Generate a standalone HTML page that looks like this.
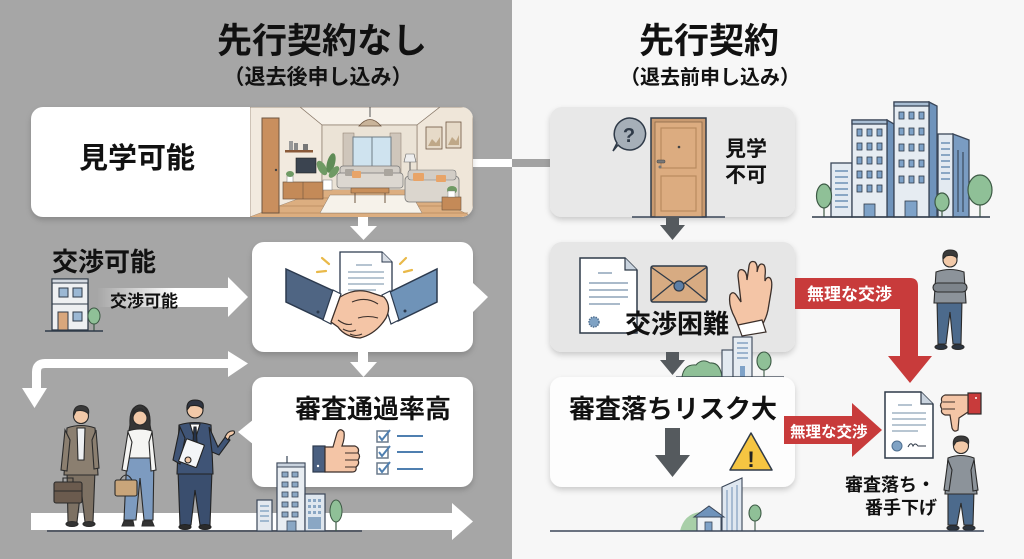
<!DOCTYPE html>
<html><head><meta charset="utf-8"><style>
html,body{margin:0;padding:0;width:1024px;height:559px;overflow:hidden;background:#f7f7f7}
svg{display:block}
text{font-family:"Liberation Sans","Noto Sans CJK JP",sans-serif;font-weight:700}
</style></head><body>
<svg width="1024" height="559" viewBox="0 0 1024 559" xmlns="http://www.w3.org/2000/svg">
<defs>
<filter id="sh" x="-10%" y="-10%" width="120%" height="135%"><feDropShadow dx="0" dy="3" stdDeviation="3" flood-color="#000" flood-opacity="0.18"/></filter>
<clipPath id="roomclip"><path d="M250 107 H461 A12 12 0 0 1 473 119 V205 A12 12 0 0 1 461 217 H250 Z"/></clipPath>
<linearGradient id="fade" x1="97" y1="0" x2="175" y2="0" gradientUnits="userSpaceOnUse"><stop offset="0" stop-color="#fff" stop-opacity="0"/><stop offset="1" stop-color="#fff" stop-opacity="1"/></linearGradient>
</defs>

<!-- backgrounds -->
<rect x="0" y="0" width="512" height="559" fill="#a6a6a6"/>
<rect x="512" y="0" width="512" height="559" fill="#f7f7f7"/>

<!-- titles -->
<text x="322" y="53" font-size="35" text-anchor="middle" fill="#111">先行契約なし</text>
<text x="318" y="84" font-size="21" text-anchor="middle" fill="#111">（退去後申し込み）</text>
<text x="709" y="53" font-size="35" text-anchor="middle" fill="#111">先行契約</text>
<text x="710" y="84" font-size="20" text-anchor="middle" fill="#111">（退去前申し込み）</text>

<!-- connector card1 -->
<rect x="470" y="159" width="42" height="8" fill="#fff"/>
<rect x="512" y="159" width="40" height="8" fill="#a2a2a2"/>

<!-- LEFT CARD 1 -->
<rect x="31" y="107" width="442" height="110" rx="12" fill="#fff" filter="url(#sh)"/>
<text x="79" y="168" font-size="29" fill="#111">見学可能</text>
<g clip-path="url(#roomclip)">
  <rect x="250" y="107" width="223" height="110" fill="#f4ede3"/>
  <polygon points="300,107 440,107 417,125 322,125" fill="#f7f2ea" stroke="#8a7a6a" stroke-width="0.7"/>
  <polygon points="250,107 300,107 322,125 322,190 250,217" fill="#f2eadf" stroke="#8a7a6a" stroke-width="0.7"/>
  <polygon points="440,107 473,107 473,217 417,190 417,125" fill="#efe6d9" stroke="#8a7a6a" stroke-width="0.7"/>
  <rect x="322" y="125" width="95" height="65" fill="#ebe3d6" stroke="#8a7a6a" stroke-width="0.7"/>
  <polygon points="322,190 417,190 473,217 250,217" fill="#dcae80"/>
  <g stroke="#b98a5e" stroke-width="0.7">
    <line x1="300" y1="198" x2="440" y2="198"/><line x1="280" y1="206" x2="455" y2="206"/><line x1="265" y1="213" x2="468" y2="213"/>
  </g>
  <polygon points="330,195 412,195 422,213 320,213" fill="#f6f2ea" stroke="#8a7a6a" stroke-width="0.5"/>
  <rect x="343" y="133" width="11" height="42" fill="#cfc6bb" stroke="#8a7a6a" stroke-width="0.5"/>
  <rect x="390" y="133" width="11" height="42" fill="#cfc6bb" stroke="#8a7a6a" stroke-width="0.5"/>
  <rect x="353" y="137" width="38" height="30" fill="#cfe3ef" stroke="#6f7c86" stroke-width="1"/>
  <line x1="372" y1="137" x2="372" y2="167" stroke="#6f7c86"/>
  <line x1="370" y1="107" x2="370" y2="117" stroke="#555"/>
  <path d="M359 126 Q370 113 381 126 Z" fill="#c9b49a" stroke="#6e5540" stroke-width="0.8"/>
  <rect x="340" y="166" width="60" height="10" rx="3" fill="#d2cdc6" stroke="#777" stroke-width="0.7"/>
  <rect x="337" y="173" width="66" height="15" rx="3" fill="#dcd7d0" stroke="#777" stroke-width="0.7"/>
  <rect x="345" y="169" width="9" height="7" rx="1" fill="#aaa59e"/>
  <rect x="352" y="171" width="9" height="7" rx="1" fill="#e8a468"/>
  <rect x="384" y="169" width="9" height="7" rx="1" fill="#aaa59e"/>
  <rect x="351" y="188" width="38" height="5" fill="#c98f5a" stroke="#6e5540" stroke-width="0.6"/>
  <line x1="355" y1="193" x2="355" y2="203" stroke="#6e5540"/><line x1="385" y1="193" x2="385" y2="203" stroke="#6e5540"/>
  <rect x="262" y="118" width="17" height="95" fill="#c98f5e" stroke="#6e5540" stroke-width="1"/>
  <circle cx="276" cy="170" r="1.2" fill="#444"/>
  <rect x="285" y="150" width="28" height="2.5" fill="#8a5a3a"/>
  <rect x="289" y="141" width="4" height="9" fill="#9a9a9a"/><rect x="294" y="143" width="4" height="7" fill="#8a8a8a"/><rect x="303" y="144" width="5" height="6" fill="#777"/>
  <rect x="296" y="158" width="20" height="15" fill="#3b4450" stroke="#222" stroke-width="0.6"/>
  <rect x="283" y="182" width="40" height="17" fill="#c48a58" stroke="#6e5540" stroke-width="0.7"/>
  <line x1="303" y1="182" x2="303" y2="199" stroke="#6e5540" stroke-width="0.6"/>
  <rect x="287" y="176" width="6" height="6" fill="#fff" stroke="#777" stroke-width="0.5"/>
  <ellipse cx="290" cy="174" rx="4" ry="3" fill="#6f9a64"/>
  <rect x="323" y="180" width="9" height="10" fill="#fff" stroke="#777" stroke-width="0.5"/>
  <ellipse cx="322" cy="168" rx="4" ry="8" fill="#6f9a64" transform="rotate(-30 322 168)"/>
  <ellipse cx="331" cy="163" rx="4" ry="10" fill="#5f8c56" transform="rotate(15 331 163)"/>
  <ellipse cx="334" cy="172" rx="3.5" ry="7" fill="#6f9a64" transform="rotate(40 334 172)"/>
  <line x1="410" y1="160" x2="410" y2="185" stroke="#555"/>
  <path d="M404 162 L406 154 L414 154 L416 162 Z" fill="#eee" stroke="#666" stroke-width="0.6"/>
  <rect x="405" y="176" width="54" height="26" rx="4" fill="#dbd6ce" stroke="#777" stroke-width="0.8"/>
  <rect x="408" y="170" width="48" height="10" rx="3" fill="#d2cdc6" stroke="#777" stroke-width="0.6"/>
  <rect x="413" y="173" width="11" height="8" rx="1" fill="#e8a468"/>
  <rect x="436" y="175" width="10" height="7" rx="1" fill="#e8a468"/>
  <rect x="426" y="127" width="16" height="22" fill="#e6dac8" stroke="#6e5540" stroke-width="0.8"/>
  <path d="M428 146 L432 139 L436 143 L440 137 L440 146 Z" fill="#bfa888"/>
  <rect x="446" y="122" width="15" height="26" fill="#e6dac8" stroke="#6e5540" stroke-width="0.8"/>
  <path d="M448 145 L452 137 L456 141 L459 135 L459 145 Z" fill="#bfa888"/>
  <rect x="442" y="197" width="19" height="13" fill="#c48a58" stroke="#6e5540" stroke-width="0.6"/>
  <ellipse cx="452" cy="190" rx="5" ry="4" fill="#6f9a64"/>
  <rect x="448" y="191" width="7" height="6" fill="#fff" stroke="#777" stroke-width="0.4"/>
</g>

<!-- left arrows -->
<rect x="358" y="217" width="10" height="12" fill="#fff"/>
<polygon points="350,226 377,226 363.5,240" fill="#fff"/>

<!-- LEFT CARD 2 (handshake) -->
<rect x="252" y="242" width="221" height="110" rx="12" fill="#fff" filter="url(#sh)"/>
<polygon points="473,283 488,297 473,312" fill="#fff"/>
<path d="M340 252 H382 L392 262 V298 H340 Z" fill="#fff" stroke="#2c3a4e" stroke-width="1.3"/>
<path d="M382 252 V262 H392" fill="#d9dee5" stroke="#2c3a4e" stroke-width="1"/>
<g stroke="#8ea3b8" stroke-width="1.3"><line x1="356" y1="265" x2="372" y2="265"/><line x1="348" y1="272" x2="384" y2="272"/><line x1="348" y1="278" x2="384" y2="278"/><line x1="348" y1="284" x2="384" y2="284"/><line x1="348" y1="290" x2="376" y2="290"/></g>
<g stroke="#e9b949" stroke-width="2.2" stroke-linecap="round"><line x1="322" y1="258" x2="329" y2="264"/><line x1="317" y1="272" x2="326" y2="271"/><line x1="406" y1="258" x2="400" y2="264"/><line x1="404" y1="272" x2="412" y2="270"/></g>
<polygon points="286,269 336,292 326,321 286,302" fill="#4f6583" stroke="#2c3a4e" stroke-width="1.5"/>
<polygon points="333,290 341,294 331,324 323,320" fill="#fff" stroke="#2c3a4e" stroke-width="1.2"/>
<polygon points="437,269 437,302 398,321 388,293" fill="#6f93b8" stroke="#2c3a4e" stroke-width="1.5"/>
<polygon points="390,291 382,295 391,324 399,320" fill="#fff" stroke="#2c3a4e" stroke-width="1.2"/>
<circle cx="318" cy="312" r="1.5" fill="#2c3a4e"/><circle cx="405" cy="311" r="1.5" fill="#2c3a4e"/>
<path d="M340 297 Q356 287 372 293 L384 297 Q392 306 386 318 Q376 334 360 338 Q345 337 338 327 L331 322 Z" fill="#f4c5a6" stroke="#3b2f2a" stroke-width="1.3"/>
<g fill="none" stroke="#3b2f2a" stroke-width="1.1"><path d="M352 302 Q366 296 378 304"/><path d="M338 320 Q346 326 352 324"/><path d="M343 329 Q350 333 356 330"/><path d="M350 334 Q356 337 362 334"/><path d="M358 318 Q368 315 378 318"/></g>

<!-- 交渉可能 label -->
<text x="52" y="271" font-size="26" fill="#111">交渉可能</text>
<rect x="52" y="279" width="36" height="51" fill="#eef0f2" stroke="#2f3a48" stroke-width="1.3"/>
<rect x="52" y="279" width="36" height="4" fill="#d5dbe2" stroke="#2f3a48" stroke-width="1"/>
<rect x="59" y="288" width="9" height="9" fill="#9bb8d4" stroke="#2f3a48" stroke-width="1"/>
<rect x="73" y="288" width="9" height="9" fill="#9bb8d4" stroke="#2f3a48" stroke-width="1"/>
<line x1="52" y1="304" x2="88" y2="304" stroke="#2f3a48" stroke-width="1"/>
<rect x="58" y="312" width="10" height="18" fill="#d9a77c" stroke="#2f3a48" stroke-width="1"/>
<rect x="73" y="312" width="9" height="9" fill="#9bb8d4" stroke="#2f3a48" stroke-width="1"/>
<line x1="94" y1="318" x2="94" y2="331" stroke="#3d5a45" stroke-width="1.2"/>
<ellipse cx="94" cy="316" rx="6" ry="8" fill="#8fc097" stroke="#3d5a45" stroke-width="1"/>
<line x1="45" y1="331" x2="103" y2="331" stroke="#2f3a48" stroke-width="1.5"/>
<rect x="97" y="288" width="133" height="19" fill="url(#fade)"/>
<polygon points="228,277 248,297 228,317" fill="#fff"/>
<text x="110" y="307" font-size="17" fill="#111">交渉可能</text>

<!-- down arrow 2 -->
<rect x="358" y="352" width="10" height="12" fill="#fff"/>
<polygon points="350,362 377,362 363.5,377" fill="#fff"/>

<!-- elbow arrow -->
<path d="M232 363.5 L45 363.5 Q36.5 363.5 36.5 372 L36.5 392" fill="none" stroke="#fff" stroke-width="9"/>
<polygon points="228,351 248,363.5 228,377" fill="#fff"/>
<polygon points="22,388 47,388 34.5,408" fill="#fff"/>

<!-- LEFT CARD 3 -->
<rect x="252" y="377" width="221" height="110" rx="12" fill="#fff" filter="url(#sh)"/>
<polygon points="254,419 238,432 254,445" fill="#fff"/>
<text x="295" y="418" font-size="26" fill="#111">審査通過率高</text>
<rect x="313" y="446" width="12" height="26" fill="#4a5f80" stroke="#2c3a4e" stroke-width="1.2"/>
<circle cx="318" cy="466" r="1.2" fill="#fff"/>
<path d="M325 447 L333 447 L337 433 Q340 427 344 432 Q345 438 342 446 L355 446 Q360 448 358 453 Q361 456 358 460 Q360 464 356 467 Q357 472 352 472 L325 472 Z" fill="#f4c5a6" stroke="#3b2f2a" stroke-width="1.2"/>
<g fill="none" stroke="#3b2f2a" stroke-width="1"><line x1="345" y1="453" x2="358" y2="453"/><line x1="345" y1="460" x2="358" y2="460"/><line x1="345" y1="467" x2="356" y2="467"/></g>
<g fill="none" stroke="#4f7fb0" stroke-width="1.5">
  <rect x="377" y="431" width="11" height="11" stroke="#6a7a8c"/><path d="M379 436 L382 440 L390 430" stroke-width="2"/><line x1="397" y1="436" x2="423" y2="436" stroke-width="2"/>
  <rect x="377" y="447" width="11" height="11" stroke="#6a7a8c"/><path d="M379 452 L382 456 L390 446" stroke-width="2"/><line x1="397" y1="452" x2="423" y2="452" stroke-width="2"/>
  <rect x="377" y="463" width="11" height="11" stroke="#6a7a8c"/><path d="M379 468 L382 472 L390 462" stroke-width="2"/><line x1="397" y1="469" x2="423" y2="469" stroke-width="2"/>
</g>

<!-- bottom arrow left -->
<rect x="31" y="513" width="425" height="17" fill="#fff"/>
<polygon points="452,503 473,521.5 452,540" fill="#fff"/>
<line x1="47" y1="531" x2="362" y2="531" stroke="#3a4250" stroke-width="1.5"/>

<!-- buildings left bottom -->
<rect x="257" y="500" width="15" height="31" fill="#e4e9ef" stroke="#3a4658" stroke-width="1.2"/>
<g stroke="#8aa7c4" stroke-width="1.5"><line x1="260" y1="506" x2="269" y2="506"/><line x1="260" y1="511" x2="269" y2="511"/><line x1="260" y1="516" x2="269" y2="516"/><line x1="260" y1="521" x2="269" y2="521"/></g>
<line x1="287" y1="456" x2="287" y2="463" stroke="#3a4658" stroke-width="1.2"/>
<rect x="277" y="463" width="28" height="68" fill="#e8edf2" stroke="#3a4658" stroke-width="1.2"/>
<rect x="277" y="463" width="28" height="4" fill="#c9d3de" stroke="#3a4658" stroke-width="1"/>
<g fill="#8aa7c4" stroke="#3a4658" stroke-width="0.8">
 <rect x="282" y="472" width="6" height="5"/><rect x="292" y="472" width="6" height="5"/>
 <rect x="282" y="482" width="6" height="5"/><rect x="292" y="482" width="6" height="5"/>
 <rect x="282" y="492" width="6" height="5"/><rect x="292" y="492" width="6" height="5"/>
 <rect x="282" y="502" width="6" height="5"/><rect x="292" y="502" width="6" height="5"/>
 <rect x="282" y="512" width="6" height="5"/><rect x="292" y="512" width="6" height="5"/>
 <rect x="287" y="521" width="9" height="10"/>
</g>
<rect x="305" y="494" width="20" height="37" fill="#dfe7ef" stroke="#3a4658" stroke-width="1.2"/>
<g fill="#8aa7c4"><rect x="308" y="499" width="3" height="3"/><rect x="313" y="499" width="3" height="3"/><rect x="318" y="499" width="3" height="3"/><rect x="308" y="505" width="3" height="3"/><rect x="313" y="505" width="3" height="3"/><rect x="318" y="505" width="3" height="3"/><rect x="308" y="511" width="3" height="3"/><rect x="313" y="511" width="3" height="3"/><rect x="318" y="511" width="3" height="3"/><rect x="308" y="517" width="13" height="12"/></g>
<line x1="336" y1="515" x2="336" y2="531" stroke="#3d5a45" stroke-width="1.2"/>
<ellipse cx="336" cy="511" rx="6" ry="11" fill="#8fc097" stroke="#3d5a45" stroke-width="1"/>

<!-- people left -->
<!-- person1 -->
<g stroke="#2b2b2b" stroke-width="1.1">
 <polygon points="67,470 95,470 93,522 85,522 81,488 77,522 68,522" fill="#7d7163"/>
 <ellipse cx="72" cy="524" rx="6" ry="2.5" fill="#333"/><ellipse cx="89" cy="524" rx="6" ry="2.5" fill="#333"/>
 <path d="M67 428 Q81 423 95 428 L98 475 L64 475 Z" fill="#8b7f70"/>
 <polygon points="77,428 85,428 84,460 78,460" fill="#eef0f2"/>
 <path d="M65 430 L61 470 L67 471 L70 440 Z" fill="#8b7f70"/>
 <path d="M96 430 L99 468 L94 469 L92 440 Z" fill="#8b7f70"/>
 <circle cx="81" cy="416" r="7.5" fill="#f2c9a8"/>
 <path d="M73.5 416 Q73 406 81 405.5 Q90 406 88.5 414 Q84 409 76 411 Z" fill="#3a3a3a"/>
 <rect x="54" y="482" width="28" height="21" rx="2" fill="#6b5b4e"/>
 <path d="M63 482 L63 478 L73 478 L73 482" fill="none"/>
 <line x1="54" y1="491" x2="82" y2="491"/>
</g>
<!-- person2 -->
<g stroke="#2b2b2b" stroke-width="1.1">
 <path d="M130 425 Q129 406 140 405 Q151 406 150 425 L152 436 L128 436 Z" fill="#353535"/>
 <polygon points="127,455 154,455 153,520 144,520 140,478 136,520 124,520" fill="#7d9bc0"/>
 <path d="M124 521 L133 521 L134 526 L122 526 Z" fill="#333"/><path d="M143 521 L152 521 L154 526 L142 526 Z" fill="#333"/>
 <path d="M128 431 Q140 427 152 431 L154 458 L126 458 Z" fill="#f5f5f3"/>
 <path d="M128 432 L122 470 L127 471 L132 442 Z" fill="#f5f5f3"/>
 <path d="M152 432 L156 470 L151 471 L149 442 Z" fill="#f5f5f3"/>
 <circle cx="140" cy="418" r="7" fill="#f2c9a8"/>
 <path d="M133 416 Q134 408 142 409 Q145 411 147 416 Q147 406 140 405 Q132 406 133 416 Z" fill="#353535"/>
 <rect x="115" y="480" width="22" height="16" rx="2" fill="#c9a57a"/>
 <path d="M120 480 Q126 470 132 480" fill="none"/>
</g>
<!-- person3 -->
<g stroke="#222" stroke-width="1.1">
 <polygon points="178,470 212,470 210,525 200,525 195,490 191,525 180,525" fill="#3a4e6e"/>
 <ellipse cx="185" cy="527" rx="6" ry="2.5" fill="#2b2b2b"/><ellipse cx="205" cy="527" rx="6" ry="2.5" fill="#2b2b2b"/>
 <path d="M179 425 Q195 420 211 425 L213 474 L177 474 Z" fill="#3f5476"/>
 <polygon points="190,424 200,424 195,440" fill="#fff"/>
 <polygon points="194,427 196,427 197,442 195,446 193,442" fill="#24324a"/>
 <path d="M180 427 L173 460 L180 464 L185 438 Z" fill="#3f5476"/>
 <path d="M209 427 L218 447 L226 436 L230 440 L219 455 L212 452 Z" fill="#3f5476"/>
 <path d="M225 437 Q228 430 234 431 Q236 434 230 436 L228 440 Z" fill="#f2c9a8"/>
 <rect x="182" y="441" width="19" height="24" rx="1" fill="#f4f6f8" transform="rotate(20 191 453)"/>
 <circle cx="188" cy="460" r="3" fill="#f2c9a8"/>
 <circle cx="195" cy="410" r="8" fill="#f2c9a8"/>
 <path d="M187 410 Q186 400 195 400 Q205 400 203 409 Q199 404 190 406 Z" fill="#2f3542"/>
</g>

<!-- RIGHT CARD 1 -->
<rect x="550" y="107" width="245" height="110" rx="12" fill="#e8e8e8" filter="url(#sh)"/>
<path d="M629 118 A16 16 0 1 1 618 145 L613 151 L617 143 A16 16 0 0 1 629 118 Z" fill="#a6afb8" stroke="#2f3a48" stroke-width="1.5"/>
<text x="629" y="142" font-size="20" text-anchor="middle" fill="#2f3a48" font-family="Liberation Sans, sans-serif">?</text>
<rect x="651" y="118" width="55" height="99" fill="#c99a70" stroke="#2f3a48" stroke-width="1.5"/>
<rect x="655" y="122" width="47" height="95" fill="#dcac80" stroke="#8a6a4a" stroke-width="0.8"/>
<rect x="661" y="128" width="35" height="40" fill="none" stroke="#b98a5e" stroke-width="1.2"/>
<rect x="661" y="176" width="35" height="35" fill="none" stroke="#b98a5e" stroke-width="1.2"/>
<circle cx="679" cy="147" r="1.3" fill="#444"/>
<rect x="657" y="160" width="8" height="3" rx="1" fill="#777" stroke="#444" stroke-width="0.5"/>
<circle cx="660" cy="167" r="1.5" fill="#777"/>
<line x1="632" y1="217" x2="725" y2="217" stroke="#3a4658" stroke-width="1.5"/>
<text x="725" y="156" font-size="21" fill="#111">見学</text>
<text x="725" y="182" font-size="21" fill="#111">不可</text>

<!-- right city top -->
<g stroke="#3a4658" stroke-width="1.3">
 <rect x="831" y="163" width="21" height="54" fill="#e3eaf1"/>
 <g stroke="#8aa7c4" stroke-width="2"><line x1="835" y1="171" x2="848" y2="171"/><line x1="835" y1="177" x2="848" y2="177"/><line x1="835" y1="183" x2="848" y2="183"/><line x1="835" y1="189" x2="848" y2="189"/><line x1="835" y1="195" x2="848" y2="195"/><line x1="835" y1="201" x2="848" y2="201"/><line x1="835" y1="207" x2="848" y2="207"/></g>
 <polygon points="887,120 894,124 894,217 887,217" fill="#6f93bb"/>
 <rect x="852" y="120" width="35" height="97" fill="#e6ecf2"/>
 <rect x="852" y="120" width="35" height="4" fill="#a8bdd3"/>
 <polygon points="929,102 937,106 937,217 929,217" fill="#6f93bb"/>
 <rect x="894" y="102" width="35" height="115" fill="#e6ecf2"/>
 <rect x="894" y="102" width="35" height="4" fill="#a8bdd3"/>
 <polygon points="953,134 969,140 969,217 953,217" fill="#7a9cc2"/>
 <rect x="938" y="134" width="15" height="83" fill="#e3eaf1"/>
</g>
<g fill="#7ea2c8" stroke="#2f3a48" stroke-width="0.8">
 <rect x="857" y="129" width="5" height="7"/><rect x="867" y="129" width="5" height="7"/><rect x="877" y="129" width="5" height="7"/>
 <rect x="857" y="143" width="5" height="7"/><rect x="867" y="143" width="5" height="7"/><rect x="877" y="143" width="5" height="7"/>
 <rect x="857" y="157" width="5" height="7"/><rect x="867" y="157" width="5" height="7"/><rect x="877" y="157" width="5" height="7"/>
 <rect x="857" y="171" width="5" height="7"/><rect x="867" y="171" width="5" height="7"/><rect x="877" y="171" width="5" height="7"/>
 <rect x="857" y="185" width="5" height="7"/><rect x="867" y="185" width="5" height="7"/><rect x="877" y="185" width="5" height="7"/>
 <rect x="864" y="204" width="11" height="13"/>
 <rect x="899" y="112" width="5" height="7"/><rect x="909" y="112" width="5" height="7"/><rect x="919" y="112" width="5" height="7"/>
 <rect x="899" y="128" width="5" height="7"/><rect x="909" y="128" width="5" height="7"/><rect x="919" y="128" width="5" height="7"/>
 <rect x="899" y="144" width="5" height="7"/><rect x="909" y="144" width="5" height="7"/><rect x="919" y="144" width="5" height="7"/>
 <rect x="899" y="160" width="5" height="7"/><rect x="909" y="160" width="5" height="7"/><rect x="919" y="160" width="5" height="7"/>
 <rect x="899" y="176" width="5" height="7"/><rect x="909" y="176" width="5" height="7"/><rect x="919" y="176" width="5" height="7"/>
 <rect x="905" y="201" width="12" height="16"/>
</g>
<g stroke="#8aa7c4" stroke-width="2"><line x1="941" y1="143" x2="950" y2="143"/><line x1="941" y1="149" x2="950" y2="149"/><line x1="941" y1="155" x2="950" y2="155"/><line x1="941" y1="161" x2="950" y2="161"/><line x1="941" y1="167" x2="950" y2="167"/><line x1="941" y1="173" x2="950" y2="173"/><line x1="941" y1="179" x2="950" y2="179"/></g>
<g stroke="#2f3a48" stroke-width="1"><line x1="958" y1="150" x2="958" y2="212"/><line x1="963" y1="152" x2="963" y2="212"/></g>
<g stroke="#3d5a45" stroke-width="1.2">
 <line x1="824" y1="197" x2="824" y2="217"/><ellipse cx="824" cy="196" rx="7.5" ry="12" fill="#8fc097"/>
 <line x1="942" y1="203" x2="942" y2="217"/><ellipse cx="942" cy="202" rx="7" ry="9" fill="#8fc097"/>
 <line x1="980" y1="190" x2="980" y2="217"/><ellipse cx="980" cy="190" rx="12" ry="15" fill="#8fc097"/>
</g>
<line x1="812" y1="217" x2="990" y2="217" stroke="#2f3a48" stroke-width="1.5"/>

<!-- right down arrow 1 -->
<rect x="666" y="217" width="13" height="10" fill="#555a5e"/>
<polygon points="660,225 685,225 672.5,240" fill="#555a5e"/>

<!-- RIGHT CARD 2 -->
<rect x="550" y="242" width="245" height="110" rx="12" fill="#e6e6e6" filter="url(#sh)"/>
<path d="M580 258 H625 L637 270 V333 H580 Z" fill="#fff" stroke="#2f3a48" stroke-width="1.5"/>
<path d="M625 258 V270 H637" fill="#c9d3de" stroke="#2f3a48" stroke-width="1.2"/>
<g stroke="#8ea3b8" stroke-width="1.5"><line x1="598" y1="273" x2="612" y2="273"/><line x1="589" y1="283" x2="628" y2="283"/><line x1="589" y1="290" x2="628" y2="290"/><line x1="589" y1="297" x2="628" y2="297"/><line x1="589" y1="304" x2="620" y2="304"/></g>
<circle cx="594" cy="322" r="5" fill="#7fa2c4" stroke="#4f6f90" stroke-width="1.5" stroke-dasharray="1.5 1"/>
<rect x="651" y="266" width="56" height="36" rx="2" fill="#d7ab82" stroke="#2f3a48" stroke-width="1.5"/>
<path d="M651 267 L679 287 L707 267 M651 301 L673 283 M707 301 L685 283" fill="none" stroke="#2f3a48" stroke-width="1.3"/>
<circle cx="679" cy="286" r="5" fill="#5d7fa6" stroke="#2f3a48" stroke-width="1.2"/>
<path d="M740 330 L735 318 Q728 305 730 295 Q733 290 737 296 L741 302 L738 276 Q738 268 743 270 Q747 272 747 280 L749 266 Q750 260 755 262 Q758 265 757 272 L758 268 Q760 262 764 265 Q766 268 765 276 L765 281 Q767 276 770 278 Q773 281 771 292 L768 310 Q766 320 760 328 Z" fill="#f4c5a6" stroke="#3b2f2a" stroke-width="1.3"/>
<path d="M738 325 L762 320 L766 332 L742 336 Z" fill="#fff" stroke="#3b2f2a" stroke-width="1.2"/>
<text x="625" y="333" font-size="26" fill="#111">交渉困難</text>

<!-- small city under card 2 -->
<path d="M682 377 Q684 364 696 365 Q702 358 710 363 Q720 362 722 377 Z" fill="#8fc097" stroke="#3d5a45" stroke-width="1"/>
<rect x="722" y="350" width="11" height="27" fill="#e3eaf1" stroke="#3a4658" stroke-width="1.1"/>
<rect x="733" y="337" width="19" height="40" fill="#e6ecf2" stroke="#3a4658" stroke-width="1.1"/>
<g stroke="#8aa7c4" stroke-width="1.6"><line x1="737" y1="343" x2="748" y2="343"/><line x1="737" y1="348" x2="748" y2="348"/><line x1="737" y1="353" x2="748" y2="353"/><line x1="737" y1="358" x2="748" y2="358"/></g>
<rect x="740" y="366" width="5" height="11" fill="#7ea2c8"/>
<g stroke="#3d5a45" stroke-width="1.1"><line x1="764" y1="362" x2="764" y2="377"/><ellipse cx="764" cy="361" rx="7" ry="9" fill="#8fc097"/></g>
<line x1="676" y1="377" x2="784" y2="377" stroke="#2f3a48" stroke-width="1.3"/>

<!-- right down arrow 2 -->
<rect x="666" y="352" width="13" height="10" fill="#555a5e"/>
<polygon points="660,360 685,360 672.5,375" fill="#555a5e"/>

<!-- red arrow 1 -->
<path d="M795 278 L910 278 Q918 278 918 286 L918 356 L932 356 L910 383 L888 356 L900 356 L900 309 L795 309 Z" fill="#c83b3b"/>
<text x="807" y="300" font-size="17" fill="#fff">無理な交渉</text>

<!-- arms crossed person -->
<g stroke="#2b2b2b" stroke-width="1.1">
 <polygon points="937,300 962,300 961,344 953,344 950,312 946,344 938,344" fill="#4c6a8c"/>
 <ellipse cx="941" cy="347" rx="6" ry="2.5" fill="#2b3440"/><ellipse cx="958" cy="347" rx="6" ry="2.5" fill="#2b3440"/>
 <path d="M936 272 Q950 267 964 272 L966 303 L934 303 Z" fill="#8c939a"/>
 <rect x="933" y="283" width="34" height="9" rx="4.5" fill="#7d848b"/>
 <circle cx="950" cy="260" r="7" fill="#f2c9a8"/>
 <path d="M943 259 Q942 250 950 250 Q959 250 957 258 Q953 254 946 256 Z" fill="#3a3a3a"/>
</g>

<!-- RIGHT CARD 3 -->
<rect x="550" y="377" width="245" height="110" rx="12" fill="#fdfdfd" filter="url(#sh)"/>
<text x="569" y="418" font-size="26" fill="#111">審査落ちリスク大</text>
<rect x="665" y="428" width="15" height="28" fill="#555a5e"/>
<polygon points="655,455 690,455 672.5,477" fill="#555a5e"/>
<path d="M751 433 L772 470 L730 470 Z" fill="#f5c542" stroke="#2f3a48" stroke-width="1.5" stroke-linejoin="round"/>
<text x="751" y="467" font-size="22" text-anchor="middle" fill="#222" font-family="Liberation Sans, sans-serif">!</text>

<!-- city below card 3 -->
<path d="M680 531 Q684 514 700 512 Q715 508 722 520 L722 531 Z" fill="#a8cfa8"/>
<polygon points="722,487 742,478 742,531 722,531" fill="#dfe7f0" stroke="#3a4658" stroke-width="1.1"/>
<g stroke="#6f8fb5" stroke-width="1"><line x1="727" y1="490" x2="727" y2="531"/><line x1="732" y1="487" x2="732" y2="531"/><line x1="737" y1="485" x2="737" y2="531"/></g>
<polygon points="694,517 709,506 724,517" fill="#6f93bb" stroke="#3a4658" stroke-width="1"/>
<rect x="697" y="517" width="24" height="14" fill="#eef2f6" stroke="#3a4658" stroke-width="1"/>
<rect x="705" y="522" width="7" height="9" fill="#7ea2c8" stroke="#3a4658" stroke-width="0.8"/>
<g stroke="#3d5a45" stroke-width="1.1"><line x1="755" y1="513" x2="755" y2="531"/><ellipse cx="755" cy="513" rx="6" ry="8" fill="#8fc097"/></g>

<!-- red arrow 2 -->
<rect x="784" y="416" width="69" height="28" fill="#c83b3b"/>
<polygon points="852,403 882,430 852,457" fill="#c83b3b"/>
<text x="790" y="437" font-size="15.5" fill="#fff">無理な交渉</text>

<!-- doc 2 -->
<path d="M885 392 H921 L933 404 V458 H885 Z" fill="#fff" stroke="#2f3a48" stroke-width="1.5"/>
<path d="M921 392 V404 H933" fill="#c9d3de" stroke="#2f3a48" stroke-width="1.2"/>
<g stroke="#8ea3b8" stroke-width="1.3"><line x1="898" y1="405" x2="912" y2="405"/><line x1="892" y1="413" x2="926" y2="413"/><line x1="892" y1="419" x2="926" y2="419"/><line x1="892" y1="425" x2="926" y2="425"/><line x1="892" y1="431" x2="918" y2="431"/></g>
<circle cx="897" cy="446" r="5" fill="#7fa2c4" stroke="#4f6f90" stroke-width="1"/>
<path d="M908 447 Q911 441 913 446 Q915 442 918 446 L926 446" fill="none" stroke="#2f3a48" stroke-width="1"/>

<!-- thumb down -->
<rect x="968" y="393" width="13" height="21" fill="#c83b3b" stroke="#2b2b2b" stroke-width="1.2"/>
<circle cx="976" cy="398" r="1" fill="#fff"/>
<path d="M968 395 L945 395 Q940 397 942 402 Q939 405 942 409 Q940 413 945 415 L950 415 L952 428 Q954 433 958 430 L959 418 L968 412 Z" fill="#f4c5a6" stroke="#3b2f2a" stroke-width="1.2"/>
<g stroke="#3b2f2a" stroke-width="1"><line x1="943" y1="402" x2="955" y2="402"/><line x1="943" y1="409" x2="955" y2="409"/></g>

<!-- person bottom right -->
<g stroke="#2b2b2b" stroke-width="1.1">
 <polygon points="948,490 974,490 973,525 964,525 961,503 957,525 948,525" fill="#4c6a8c"/>
 <ellipse cx="953" cy="528" rx="6" ry="2.5" fill="#2b3440"/><ellipse cx="969" cy="528" rx="6" ry="2.5" fill="#2b3440"/>
 <path d="M948 458 Q961 453 974 458 L977 494 L945 494 Z" fill="#8c939a"/>
 <path d="M948 460 L944 490 L949 491 L952 470 Z" fill="#8c939a"/>
 <path d="M974 460 L978 490 L973 491 L971 470 Z" fill="#8c939a"/>
 <circle cx="961" cy="446" r="7.5" fill="#f2c9a8"/>
 <path d="M953.5 446 Q952 436 961 436 Q970 436 968.5 444 Q964 439 956 442 Z" fill="#3a3a3a"/>
</g>
<text x="845" y="491" font-size="18" fill="#111">審査落ち・</text>
<text x="865" y="514" font-size="18" fill="#111">番手下げ</text>

<line x1="550" y1="531" x2="984" y2="531" stroke="#3b4658" stroke-width="1.5"/>
</svg>
</body></html>
